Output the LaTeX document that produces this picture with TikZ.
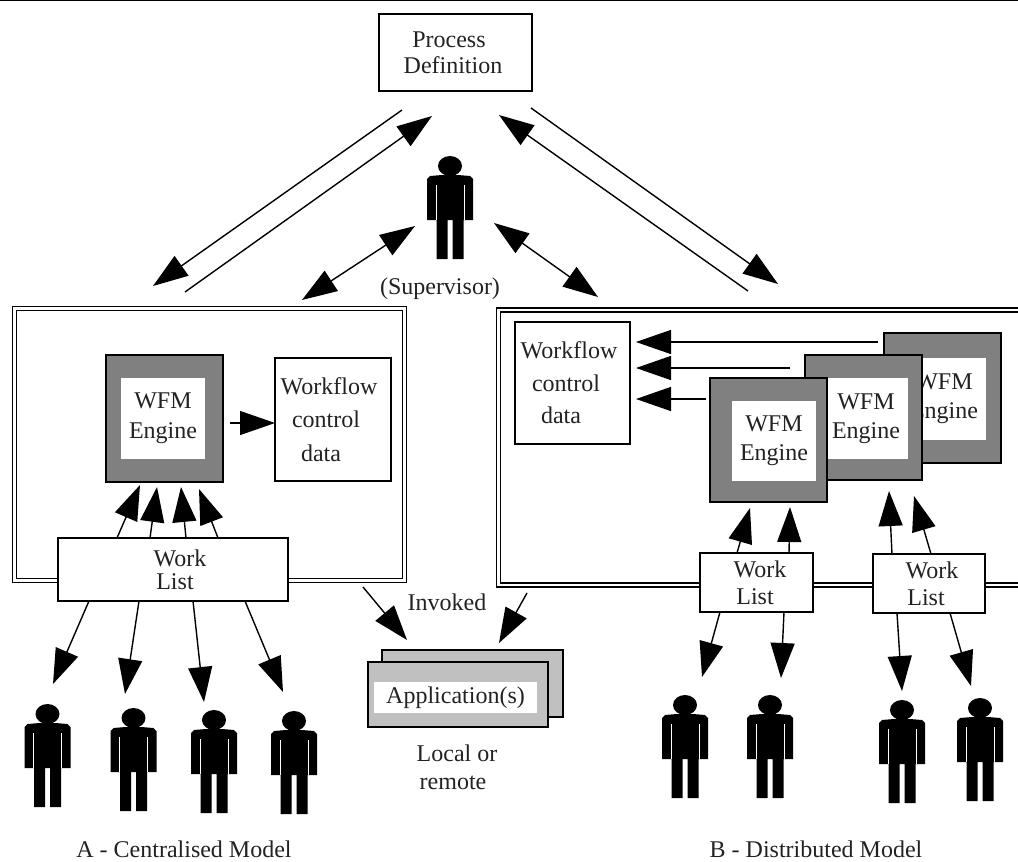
\documentclass[tikz,border=0pt]{standalone}
\usepackage{fontspec}
\setmainfont{Liberation Serif}
\usepackage{xcolor}
\usepackage{tikz}
\usetikzlibrary{positioning,arrows.meta}

\definecolor{enginegray}{HTML}{808080}
\definecolor{appgray}{HTML}{C0C0C0}
\definecolor{inkgray}{HTML}{222222}

\tikzset{
    txt/.style={font=\fontsize{24}{#1}\selectfont, align=center, text=inkgray, inner sep=0pt, outer sep=0pt},
    box/.style={txt=#1, draw=black, line width=1.3pt, fill=white},
    enginebox/.style={draw=black, line width=1.3pt, fill=enginegray, inner sep=0pt, outer sep=0pt},
    engineface/.style={txt=#1, fill=white},
    appbox/.style={draw=black, line width=1.3pt, fill=appgray, inner sep=0pt, outer sep=0pt},
    frame/.style={draw=black, line width=1.5pt, double=white, double distance=2.5pt},
    arr/.style={-{Triangle[length=35pt,width=24pt]}, line width=1.4pt},
    dblarr/.style={{Triangle[length=35pt,width=24pt]}-{Triangle[length=35pt,width=24pt]}, line width=1.4pt},
    person/.pic={
        \fill[black] (0,9) ellipse (12 and 10);
        \fill[black] (-23,22) -- (-20,19) -- (-8,18) -- (8,18) -- (20,19) -- (23,22) -- (23,63)
            -- (13.5,63) -- (13.5,102) -- (2.5,102) -- (2.5,63) -- (-2.5,63) -- (-2.5,102)
            -- (-13.5,102) -- (-13.5,63) -- (-23,63) -- cycle;
        \draw[white, line width=0.6pt] (-14,28) -- (-14,63);
        \draw[white, line width=0.6pt] (14,28) -- (14,63);
    }
}

\begin{document}
\begin{tikzpicture}[x=1pt,y=-1pt]
    \useasboundingbox (0,0) rectangle (1018,862);

    % top rule
    \draw[line width=1.5pt] (0,0.7) -- (1018,0.7);

    % process definition and supervisor
    \node[box=26pt, minimum width=153pt, minimum height=77pt] (procdef) at (455.5,52.5)
        {\hspace*{-13pt}Process\\\hspace*{-5pt}Definition};
    \pic at (450,157) {person};
    \node[txt=28pt] (superv) at (440,289) {(Supervisor)};

    % frames
    \node[frame, minimum width=390pt, minimum height=272pt] (frameA) at (209.5,444.5) {};
    \coordinate (frameBa) at (1018,310);
    \coordinate (frameBb) at (498.5,310);
    \coordinate (frameBc) at (498.5,585);
    \coordinate (frameBd) at (1018,585);
    \draw[frame] (frameBa) -- (frameBb) -- (frameBc) -- (frameBd);

    % centralised model
    \node[enginebox, minimum width=117pt, minimum height=127pt] (engineA) at (164.5,418.5) {};
    \node[engineface=30pt, minimum width=84pt, minimum height=81pt] (faceA) at (163,418.5) {WFM\\Engine};
    \node[box=33.5pt, minimum width=116pt, minimum height=123pt] (wcdA) at (333,419.5)
        {\hspace*{-8pt}Workflow\\\hspace*{-14pt}control\\\hspace*{-24pt}data};
    \node[box=23pt, minimum width=230pt, minimum height=63pt] (listA) at (173,569.5)
        {\hspace*{14pt}Work\\\hspace*{4pt}List};

    % distributed model, back to front
    \foreach \n/\ox/\oy/\oh/\fx/\fy/\fh in {c/942.5/398/130/944/399/82, b/863.5/417.5/125/866/418.5/81, a/768.5/440/124/774/441/80} {
        \node[enginebox, minimum width=117pt, minimum height=\oh pt] (engine\n) at (\ox,\oy) {};
        \node[engineface=29pt, minimum width=84pt, minimum height=\fh pt] (face\n) at (\fx,\fy) {WFM\\Engine};
    }
    \node[box=32.5pt, minimum width=115pt, minimum height=122pt] (wcdB) at (572.5,383)
        {\hspace*{-7pt}Workflow\\\hspace*{-13pt}control\\\hspace*{-23pt}data};
    \node[box=27pt, minimum width=113pt, minimum height=59pt] (listB) at (756.5,582.5)
        {\hspace*{7pt}Work\\\hspace*{-3pt}List};
    \node[box=27pt, minimum width=112pt, minimum height=59pt] (listC) at (929,583.5)
        {\hspace*{6pt}Work\\\hspace*{-6pt}List};

    % application
    \node[appbox, minimum width=181pt, minimum height=67pt] (appback) at (472.5,683.5) {};
    \node[appbox, minimum width=180pt, minimum height=65pt] (appfront) at (458,694.5) {};
    \node[txt=28pt, fill=white, minimum width=163pt, minimum height=31pt] (appface) at (455.5,697.5) {Application(s)};

    % texts
    \node[txt=28pt] (invoked) at (447,602) {Invoked};
    \node[txt=28pt] (localrem) at (455,767) {\hspace*{4pt}Local or\\\hspace*{-4pt}remote};
    \node[txt=28pt] (capA) at (184,849) {A - Centralised Model};
    \node[txt=28pt] (capB) at (816,849) {B - Distributed Model};

    % people
    \foreach \x/\y in {47.5/705, 133.5/709, 214/711, 294/712, 685/696, 770/696, 902/701, 980/699} {
        \pic at (\x,\y) {person};
    }

    % free ends of the arrows
    \foreach \n/\x/\y in {leftA/402/110, leftB/153/286, leftC/185/292, leftD/432/116,
        rightA/531/108, rightB/778/284, rightC/748/291, rightD/499/115,
        supA/415/226, supB/302/300, supC/494/223, supD/598/297,
        invA/363/587, invB/407/640, invC/527/593, invD/499/643,
        tailA/230/423, tailB/878/342, tailC/790/368, tailD/706/399,
        upa/140/485, upb/157/487, upc/181/487, upd/199/489,
        upe/750/508, upf/790/507, upg/889/491, uph/914/496,
        dna/53/684, dnb/125/694, dnc/204/702, dnd/283/692,
        dne/702/677, dnf/781/678, dng/902/691, dnh/971/686} {
        \coordinate (\n) at (\x,\y);
    }

    % arrows
    \draw[arr] (leftA) -- (leftB);
    \draw[arr] (leftC) -- (leftD);
    \draw[arr] (rightA) -- (rightB);
    \draw[arr] (rightC) -- (rightD);
    \draw[dblarr] (supA) -- (supB);
    \draw[dblarr] (supC) -- (supD);
    \draw[arr] (invA) -- (invB);
    \draw[arr] (invC) -- (invD);
    \draw[arr] (tailA) -- (tailA -| wcdA.west);
    \foreach \t in {tailB, tailC, tailD} {
        \draw[arr] (\t) -- ([xshift=6pt]\t -| wcdB.east);
    }

    % work list arrows
    \foreach \l/\dx/\tip in {A/59/upa, A/92/upb, A/128/upc, A/160/upd, B/37/upe, B/89/upf, C/19/upg, C/58/uph} {
        \draw[arr] ([xshift=\dx pt]list\l.north west) -- (\tip);
    }
    \foreach \l/\dx/\tip in {A/31/dna, A/81/dnb, A/135/dnc, A/187/dnd, B/20/dne, B/84/dnf, C/24/dng, C/77/dnh} {
        \draw[arr] ([xshift=\dx pt]list\l.south west) -- (\tip);
    }
\end{tikzpicture}
\end{document}
